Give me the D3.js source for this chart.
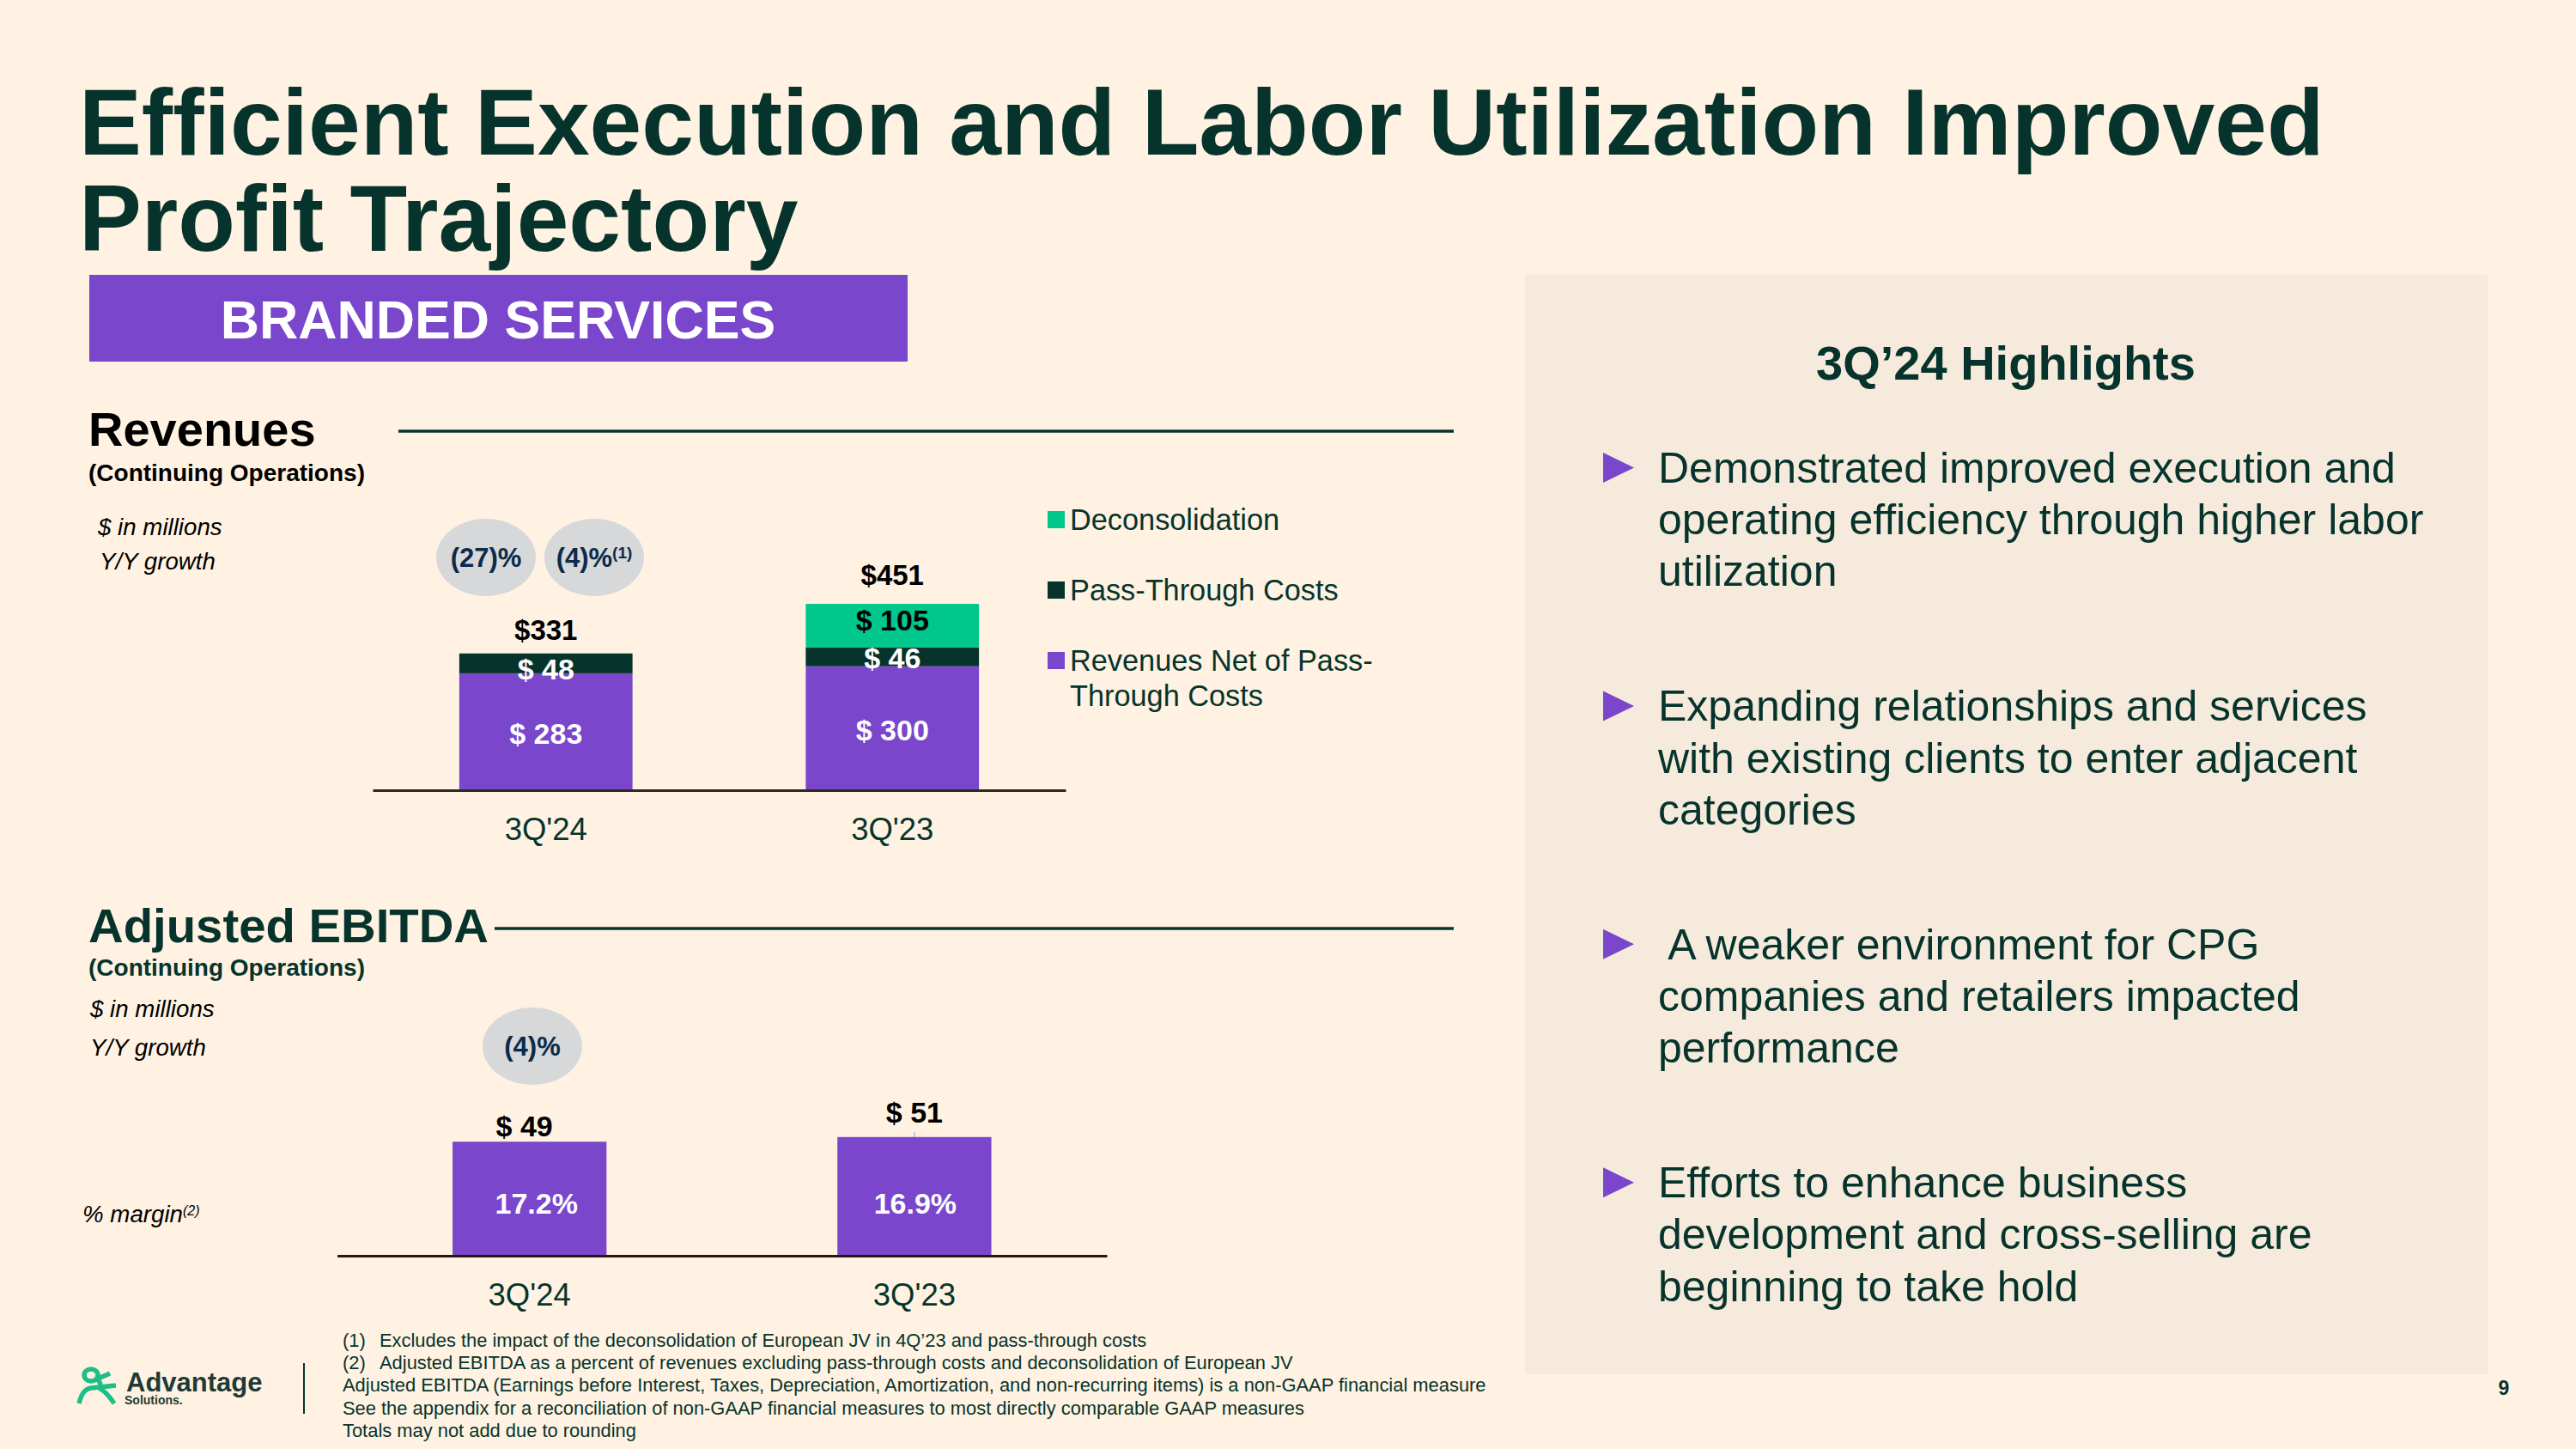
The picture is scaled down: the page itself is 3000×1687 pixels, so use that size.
<!DOCTYPE html>
<html>
<head>
<meta charset="utf-8">
<title>Branded Services</title>
<script src="https://cdnjs.cloudflare.com/ajax/libs/d3/7.8.5/d3.min.js"></script>
<style>
	html, body { margin: 0; padding: 0; background: #FFF2E2; }
	svg { display: block; }
	text { font-family: "Liberation Sans", Arial, sans-serif; white-space: pre; }
</style>
</head>
<body>
<div id="slide"></div>
<script>
const periods = ["3Q'24", "3Q'23"]

// revenues, $ in millions
const netRevenues = [283, 300]
const passThrough = [48, 46]
const deconsolidation = [0, 105]
const revenueTotals = [331, 451]
const revenueGrowth = ['(27)%', '(4)%']
const legendLabels = ['Deconsolidation', 'Pass-Through Costs', 'Revenues Net of Pass-', 'Through Costs']

// adjusted ebitda, $ in millions
const ebitda = [49, 51]
const margins = ['17.2%', '16.9%']
const ebitdaGrowth = ['(4)%']

const titleLines = ['Efficient Execution and Labor Utilization Improved', 'Profit Trajectory']
const highlights = [
	['Demonstrated improved execution and', 'operating efficiency through higher labor', 'utilization'],
	['Expanding relationships and services', 'with existing clients to enter adjacent', 'categories'],
	[' A weaker environment for CPG', 'companies and retailers impacted', 'performance'],
	['Efforts to enhance business', 'development and cross-selling are', 'beginning to take hold']
]
const footnotes = [
	['(1)', 'Excludes the impact of the deconsolidation of European JV in 4Q\u201923 and pass-through costs'],
	['(2)', 'Adjusted EBITDA as a percent of revenues excluding pass-through costs and deconsolidation of European JV'],
	['', 'Adjusted EBITDA (Earnings before Interest, Taxes, Depreciation, Amortization, and non-recurring items) is a non-GAAP financial measure'],
	['', 'See the appendix for a reconciliation of non-GAAP financial measures to most directly comparable GAAP measures'],
	['', 'Totals may not add due to rounding']
]

const colors = {
	bg: '#FFF2E2',
	panel: '#F6EADC',
	dark: '#06342C',
	purple: '#7946CC',
	green: '#00C78B',
	bubble: '#D6D8DA',
	navy: '#0C2A4A',
	ink: '#000000'
}

const svg = d3.select('#slide').append('svg')
	.attr('width', 3000)
	.attr('height', 1687)
	.attr('viewBox', '0 0 3000 1687')

svg.append('rect').attr('width', 3000).attr('height', 1687).attr('fill', colors.bg)

function addText(x, y, str, size, opts = {}) {
	return svg.append('text')
		.attr('x', x)
		.attr('y', y)
		.attr('font-size', size)
		.attr('font-weight', opts.bold ? 700 : 400)
		.attr('font-style', opts.italic ? 'italic' : 'normal')
		.attr('text-anchor', opts.anchor || 'start')
		.attr('fill', opts.fill || colors.dark)
		.text(str)
}

function addSup(node, str, size, dy) {
	node.append('tspan').attr('dy', dy).attr('font-size', size).text(str)
}

function addBubble(cx, cy, label) {
	svg.append('ellipse')
		.attr('cx', cx).attr('cy', cy).attr('rx', 58).attr('ry', 45)
		.attr('fill', colors.bubble)
	return addText(cx, cy + 11, label, 31, { bold: true, anchor: 'middle', fill: colors.navy })
}

// title + banner
titleLines.forEach((d, i) => addText(92, 180 + i * 112, d, 109.2, { bold: true }))
svg.append('rect').attr('x', 104).attr('y', 320).attr('width', 953).attr('height', 101).attr('fill', colors.purple)
addText(580, 394, 'BRANDED SERVICES', 62.7, { bold: true, anchor: 'middle', fill: '#FFFFFF' })

// section headings
addText(103, 519, 'Revenues', 56, { bold: true, fill: colors.ink })
addText(103, 560, '(Continuing Operations)', 28, { bold: true, fill: colors.ink })
svg.append('line').attr('x1', 464).attr('x2', 1693).attr('y1', 502).attr('y2', 502).attr('stroke', colors.dark).attr('stroke-width', 3.5)
addText(114, 623, '$ in millions', 27.7, { italic: true, fill: colors.ink })
addText(116, 663, 'Y/Y growth', 27.7, { italic: true, fill: colors.ink })

addText(103, 1097, 'Adjusted EBITDA', 56.3, { bold: true })
addText(103, 1136, '(Continuing Operations)', 28, { bold: true })
svg.append('line').attr('x1', 576).attr('x2', 1693).attr('y1', 1081).attr('y2', 1081).attr('stroke', colors.dark).attr('stroke-width', 3.5)
addText(105, 1184, '$ in millions', 27.7, { italic: true, fill: colors.ink })
addText(105, 1229, 'Y/Y growth', 27.7, { italic: true, fill: colors.ink })
addSup(addText(96, 1423, '% margin', 27.7, { italic: true, fill: colors.ink }), '(2)', 16, -8)

// revenues chart
const xRev = d3.scaleBand().domain(periods).range([434, 1241]).paddingInner(0.5).paddingOuter(0.25)
const yRev = d3.scaleLinear().domain([0, 500]).range([920, 679.5])

const revRows = periods.map((p, i) => ({
	period: p,
	net: netRevenues[i],
	pass: passThrough[i],
	decon: deconsolidation[i]
}))
const revStack = d3.stack().keys(['net', 'pass', 'decon'])(revRows)
const revColor = d3.scaleOrdinal().domain(['net', 'pass', 'decon']).range([colors.purple, colors.dark, colors.green])
const revLabelFill = { net: '#FFFFFF', pass: '#FFFFFF', decon: colors.ink }
// nudge so labels sit where the slide has them
const revLabelShift = { net: [2, 2], pass: [7, 1], decon: [0, -6] }
const revTotalShift = [16, 22]

const revLayers = svg.append('g').selectAll('g')
	.data(revStack)
	.join('g')

revLayers.selectAll('rect')
	.data(d => d.map((s, i) => ({ key: d.key, s, i })))
	.join('rect')
	.attr('x', d => xRev(d.s.data.period))
	.attr('y', d => yRev(d.s[1]))
	.attr('width', xRev.bandwidth())
	.attr('height', d => yRev(d.s[0]) - yRev(d.s[1]))
	.attr('fill', d => revColor(d.key))

revLayers.selectAll('text')
	.data(d => d.map((s, i) => ({ key: d.key, s, i })).filter(d => d.s[1] > d.s[0]))
	.join('text')
	.attr('x', d => xRev(d.s.data.period) + xRev.bandwidth() / 2)
	.attr('y', d => (yRev(d.s[0]) + yRev(d.s[1])) / 2 + 12 + revLabelShift[d.key][d.i])
	.attr('text-anchor', 'middle')
	.attr('font-size', 34)
	.attr('font-weight', 700)
	.attr('fill', d => revLabelFill[d.key])
	.text(d => '$ ' + (d.s[1] - d.s[0]))

svg.append('g').selectAll('text')
	.data(revenueTotals)
	.join('text')
	.attr('x', (d, i) => xRev(periods[i]) + xRev.bandwidth() / 2)
	.attr('y', (d, i) => yRev(d) - revTotalShift[i])
	.attr('text-anchor', 'middle')
	.attr('font-size', 33)
	.attr('font-weight', 700)
	.attr('fill', colors.ink)
	.text(d => '$' + d)

const revAxis = svg.append('g')
	.attr('transform', 'translate(0,920)')
	.call(d3.axisBottom(xRev).tickSize(0).tickPadding(58))
revAxis.select('.domain').attr('stroke', '#2b2b24').attr('stroke-width', 3)
revAxis.selectAll('text').attr('font-size', 36.5).attr('fill', colors.dark).attr('font-family', 'Liberation Sans').attr('dy', 0)

addBubble(566, 649, revenueGrowth[0])
addSup(addBubble(692, 649, revenueGrowth[1]), '(1)', 19, -10)

// legend
const legendY = [595, 677, 759]
const legendFill = [colors.green, colors.dark, colors.purple]
legendY.forEach((y, i) => {
	svg.append('rect').attr('x', 1220).attr('y', y).attr('width', 20).attr('height', 20).attr('fill', legendFill[i])
	addText(1246, y + 22, legendLabels[i], 34.3)
})
addText(1246, 822, legendLabels[3], 34.3)

// ebitda chart
const xEb = d3.scaleBand().domain(periods).range([392.6, 1289]).paddingInner(0.6).paddingOuter(0.3)
const yEb = d3.scaleLinear().domain([0, 60]).range([1462, 1299.4])
const ebTotalShift = [-6, 0]

svg.append('line')
	.attr('x1', xEb(periods[1]) + xEb.bandwidth() / 2)
	.attr('x2', xEb(periods[1]) + xEb.bandwidth() / 2)
	.attr('y1', yEb(ebitda[1]) - 6)
	.attr('y2', yEb(ebitda[1]))
	.attr('stroke', '#9a9a9a')
	.attr('stroke-width', 1)

svg.append('g').selectAll('rect')
	.data(ebitda)
	.join('rect')
	.attr('x', (d, i) => xEb(periods[i]))
	.attr('y', d => yEb(d))
	.attr('width', xEb.bandwidth())
	.attr('height', d => yEb(0) - yEb(d))
	.attr('fill', colors.purple)

svg.append('g').selectAll('text')
	.data(ebitda)
	.join('text')
	.attr('x', (d, i) => xEb(periods[i]) + xEb.bandwidth() / 2 + ebTotalShift[i])
	.attr('y', (d, i) => yEb(d) - (i ? 17 : 6))
	.attr('text-anchor', 'middle')
	.attr('font-size', 34)
	.attr('font-weight', 700)
	.attr('fill', colors.ink)
	.text(d => '$ ' + d)

svg.append('g').selectAll('text')
	.data(margins)
	.join('text')
	.attr('x', (d, i) => xEb(periods[i]) + xEb.bandwidth() / 2 + (i ? 1 : 8))
	.attr('y', 1413)
	.attr('text-anchor', 'middle')
	.attr('font-size', 34)
	.attr('font-weight', 700)
	.attr('fill', '#FFFFFF')
	.text(d => d)

const ebAxis = svg.append('g')
	.attr('transform', 'translate(0,1462)')
	.call(d3.axisBottom(xEb).tickSize(0).tickPadding(58))
ebAxis.select('.domain').attr('stroke', '#1d1a18').attr('stroke-width', 3)
ebAxis.selectAll('text').attr('font-size', 36.5).attr('fill', colors.dark).attr('font-family', 'Liberation Sans').attr('dy', 0)

addBubble(620, 1218, ebitdaGrowth[0])

// highlights panel
svg.append('rect').attr('x', 1776).attr('y', 320).attr('width', 1121).attr('height', 1280).attr('fill', colors.panel)
addText(2336, 442, '3Q\u201924 Highlights', 56, { bold: true, anchor: 'middle' })

highlights.forEach((lines, i) => {
	const top = 527 + i * 277.4
	svg.append('path')
		.attr('d', `M1867,${top}L1903,${top + 17.5}L1867,${top + 35}Z`)
		.attr('fill', colors.purple)
	lines.forEach((line, j) => addText(1931, top + 35 + j * 60.2, line, 50))
})

// footnotes
footnotes.forEach((d, i) => {
	const y = 1568 + i * 26.2
	if (d[0]) addText(399, y, d[0], 21.9)
	addText(d[0] ? 442 : 399, y, d[1], 21.9)
})

// logo
const logo = svg.append('g').attr('fill', 'none').attr('stroke', '#1DBE88').attr('stroke-width', 5.5)
logo.append('ellipse').attr('cx', 106).attr('cy', 1601).attr('rx', 8).attr('ry', 7)
logo.append('path').attr('d', 'M92,1634 C95,1622 99,1617 106,1616 L135,1613')
logo.append('path').attr('d', 'M115,1616 C120,1618 127,1625 133,1634')
logo.append('path').attr('d', 'M112,1606 L128,1599')
logo.append('path').attr('d', 'M113,1606 C117,1609 118,1613 116,1616')
addText(147, 1620, 'Advantage', 31, { bold: true, fill: '#1E3A38' }).attr('font-family', 'Lato')
addText(145, 1635, 'Solutions.', 14, { bold: true, fill: '#1E3A38' }).attr('font-family', 'Lato')
svg.append('line').attr('x1', 354).attr('x2', 354).attr('y1', 1587).attr('y2', 1646).attr('stroke', colors.dark).attr('stroke-width', 2)

addText(2916, 1624, '9', 23, { bold: true, anchor: 'middle' })
</script>
</body>
</html>
